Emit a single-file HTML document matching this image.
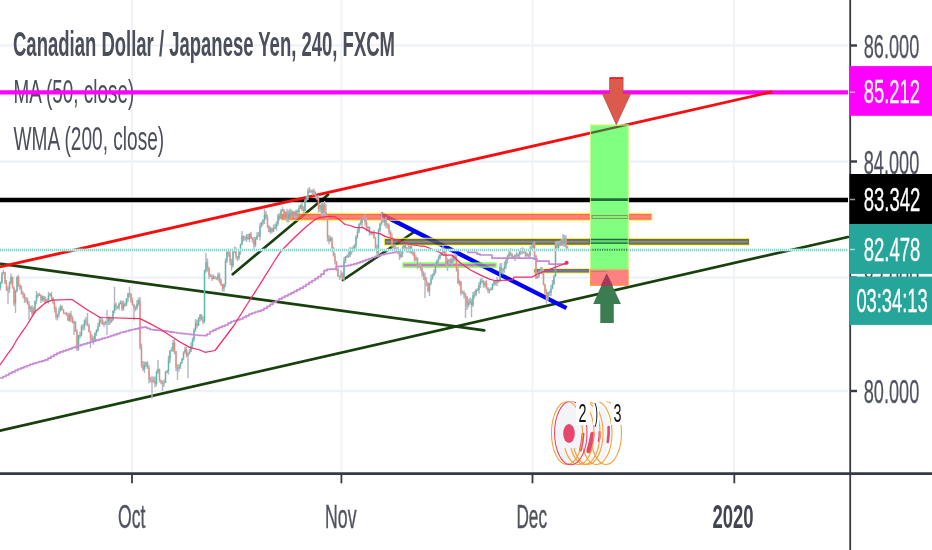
<!DOCTYPE html>
<html><head><meta charset="utf-8"><title>CADJPY chart</title><style>html,body{margin:0;padding:0;background:#fff;overflow:hidden;}svg{display:block;will-change:transform}</style></head><body>
<svg width="932" height="550" viewBox="0 0 932 550">
<style>text{font-family:"Liberation Sans", Arial, sans-serif;}</style>
<rect width="932" height="550" fill="#ffffff"/>
<g stroke="#eef2f7" stroke-width="2.4" fill="none">
<path d="M0 45.4H848"/>
<path d="M0 161.5H848"/>
<path d="M0 277.6H848"/>
<path d="M0 391.0H848"/>
</g>
<g stroke="#eff3f9" stroke-width="1.8" fill="none">
<path d="M132 0V472"/>
<path d="M341.4 0V472"/>
<path d="M532.5 0V472"/>
<path d="M734 0V472"/>
</g>
<text x="13" y="56.4" font-size="34.5" font-weight="bold" fill="#4b4e5b" textLength="382" lengthAdjust="spacingAndGlyphs" text-anchor="start">Canadian Dollar / Japanese Yen, 240, FXCM</text>
<text x="13.5" y="103.4" font-size="34" font-weight="normal" fill="#4b4e5b" textLength="120.7" lengthAdjust="spacingAndGlyphs" text-anchor="start">MA (50, close)</text>
<text x="13.5" y="150.2" font-size="34" font-weight="normal" fill="#4b4e5b" textLength="150.7" lengthAdjust="spacingAndGlyphs" text-anchor="start">WMA (200, close)</text>
<g stroke="#17400d" stroke-width="2.7" stroke-linecap="round">
<line x1="1" y1="263.8" x2="484.2" y2="330.4"/>
<line x1="0" y1="430.6" x2="848" y2="237"/>
<line x1="232.7" y1="274.2" x2="328" y2="194.7"/>
<line x1="343" y1="280" x2="414" y2="232"/>
</g>
<line x1="380.7" y1="214" x2="566.5" y2="308.2" stroke="#0000ff" stroke-width="4.3"/>
<path d="M0 200H848" stroke="#000" stroke-width="4.6"/>
<path d="M0 92.3H848" stroke="#ff00ff" stroke-width="4.3"/>
<line x1="1" y1="266.7" x2="771.2" y2="92" stroke="#f70d0d" stroke-width="2.9" stroke-linecap="round"/>
<g opacity="0.8"><rect x="281" y="212.7" width="371.20000000000005" height="8.200000000000017" fill="#fff23a"/><rect x="281.8" y="213.89999999999998" width="369.6" height="5.800000000000017" fill="#ff4a1a"/><rect x="282.8" y="215.2" width="367.80000000000007" height="3.200000000000017" fill="#ff6060"/></g>
<g opacity="0.8"><rect x="384" y="237.7" width="365.79999999999995" height="8.200000000000017" fill="#ffff40"/><rect x="384.8" y="238.89999999999998" width="364.19999999999993" height="5.800000000000017" fill="#4a4a10"/><rect x="385.8" y="240.79999999999998" width="362.4" height="2.000000000000017" fill="#6a6a88"/></g>
<g opacity="0.85"><rect x="402.3" y="262.3" width="94.4" height="5.6" fill="#70ff40"/><rect x="403.5" y="264.1" width="92.2" height="2.2" rx="1.1" fill="#c060c8"/></g>
<g opacity="0.8"><rect x="533.5" y="267.8" width="56.5" height="6.0" fill="#ffff40"/><rect x="534.3" y="269.0" width="54.9" height="3.6" fill="#4a4a70"/><rect x="535.3" y="270.3" width="53.1" height="1.0" fill="#5a5a90"/></g>
<path d="M0.50 281.5V290.4M2.00 271.8V284.0M3.50 270.0V274.5M5.00 272.0V284.0M6.50 280.0V291.1M8.00 286.5V304.0M9.50 281.1V293.1M11.00 273.5V284.2M12.50 276.2V288.8M14.00 286.4V306.1M15.50 289.5V313.0M17.00 276.2V292.2M18.50 274.8V287.1M20.00 283.7V289.8M21.50 285.5V294.8M23.00 291.3V298.2M24.50 293.3V302.9M26.00 297.1V302.6M27.50 297.4V304.7M29.00 301.1V320.0M30.50 306.1V312.1M32.00 305.1V315.5M33.50 306.8V315.6M35.00 300.4V313.5M36.50 291.0V304.3M38.00 293.0V298.1M39.50 292.7V296.0M41.00 294.5V303.0M42.50 295.4V301.6M44.00 296.0V302.3M45.50 296.8V304.0M47.00 298.5V302.5M48.50 291.7V303.7M50.00 293.1V296.4M51.50 292.0V300.1M53.00 297.3V304.2M54.50 300.0V312.6M56.00 306.6V319.4M57.50 313.7V320.5M59.00 307.5V317.4M60.50 304.4V311.7M62.00 305.7V310.3M63.50 308.9V314.3M65.00 312.5V314.2M66.50 311.7V315.7M68.00 312.8V321.1M69.50 312.7V321.9M71.00 310.9V321.8M72.50 315.7V323.4M74.00 320.4V335.0M75.50 321.0V331.9M77.00 329.3V351.0M78.50 334.7V351.1M80.00 331.7V338.5M81.50 324.7V336.5M83.00 324.1V330.2M84.50 319.3V330.3M86.00 316.9V325.0M87.50 313.0V326.5M89.00 323.7V332.5M90.50 330.8V348.0M92.00 334.2V342.8M93.50 336.2V344.7M95.00 332.2V341.3M96.50 328.9V335.9M98.00 322.8V332.0M99.50 316.9V326.8M101.00 316.5V323.5M102.50 318.2V324.9M104.00 321.6V327.2M105.50 320.5V324.9M107.00 310.0V335.0M108.50 316.6V325.1M110.00 316.6V324.8M111.50 317.7V323.0M113.00 310.2V320.8M114.50 286.8V313.3M116.00 302.5V310.3M117.50 305.7V308.9M119.00 302.6V310.2M120.50 300.3V304.5M122.00 300.6V310.9M123.50 300.8V310.7M125.00 302.2V306.7M126.50 298.2V306.3M128.00 292.9V301.9M129.50 286.8V297.3M131.00 292.9V302.9M132.50 297.5V305.7M134.00 303.8V320.5M135.50 305.7V311.3M137.00 300.0V309.8M138.50 298.1V305.9M140.00 297.0V349.6M141.50 343.5V367.8M143.00 361.1V370.9M144.50 361.4V373.0M146.00 361.8V367.1M147.50 361.3V369.1M149.00 365.3V383.3M150.50 376.7V382.5M152.00 376.2V398.8M153.50 376.5V382.9M155.00 376.4V387.5M156.50 370.3V386.3M158.00 360.0V373.7M159.50 368.6V382.5M161.00 379.7V384.3M162.50 380.6V391.0M164.00 379.5V387.0M165.50 371.1V383.1M167.00 369.7V373.2M168.50 355.6V374.4M170.00 350.0V362.9M171.50 347.3V351.4M173.00 339.9V352.0M174.50 339.0V354.2M176.00 350.9V371.3M177.50 364.3V380.0M179.00 364.3V371.5M180.50 362.1V368.9M182.00 358.1V363.7M183.50 351.3V360.2M185.00 346.4V353.8M186.50 347.0V357.3M188.00 352.3V378.0M189.50 349.1V354.5M191.00 342.3V352.1M192.50 337.6V348.2M194.00 328.3V341.7M195.50 319.1V331.7M197.00 320.1V328.5M198.50 317.1V326.3M200.00 314.3V321.7M201.50 313.9V320.5M203.00 316.3V324.3M204.50 269.6V322.9M206.00 253.0V272.7M207.50 258.4V271.8M209.00 266.7V279.2M210.50 273.7V276.9M212.00 274.5V281.1M213.50 274.5V279.2M215.00 276.0V279.2M216.50 277.1V279.9M218.00 272.7V280.8M219.50 272.4V283.3M221.00 278.6V286.1M222.50 283.8V291.4M224.00 283.6V291.8M225.50 258.2V287.1M227.00 251.2V263.1M228.50 248.6V256.7M230.00 250.9V265.1M231.50 258.7V270.5M233.00 250.1V267.4M234.50 246.5V253.2M236.00 247.3V259.2M237.50 256.1V261.1M239.00 249.6V260.1M240.50 243.5V254.8M242.00 231.0V245.4M243.50 235.2V241.5M245.00 236.3V240.5M246.50 233.9V241.9M248.00 234.1V239.8M249.50 232.9V242.2M251.00 231.7V238.9M252.50 237.3V242.7M254.00 237.1V250.8M255.50 237.0V247.0M257.00 232.2V240.1M258.50 232.1V237.1M260.00 223.0V240.6M261.50 221.5V227.4M263.00 219.1V225.2M264.50 208.3V224.0M266.00 211.0V219.6M267.50 214.5V228.2M269.00 224.9V232.3M270.50 226.4V233.9M272.00 227.7V233.1M273.50 224.8V231.9M275.00 223.5V229.0M276.50 221.0V230.5M278.00 213.7V225.7M279.50 212.9V220.4M281.00 209.1V219.2M282.50 206.7V211.8M284.00 208.9V219.6M285.50 211.3V220.0M287.00 208.7V222.2M288.50 210.1V222.6M290.00 208.6V214.2M291.50 209.6V218.7M293.00 210.6V216.1M294.50 211.2V217.7M296.00 209.5V218.6M297.50 209.7V214.6M299.00 205.6V213.7M300.50 204.2V209.1M302.00 203.0V211.0M303.50 205.9V212.9M305.00 199.3V211.6M306.50 195.7V201.5M308.00 188.2V199.9M309.50 187.0V193.0M311.00 189.5V193.1M312.50 189.4V195.5M314.00 188.5V195.0M315.50 191.3V198.6M317.00 195.5V200.3M318.50 194.9V212.5M320.00 204.4V211.9M321.50 202.7V215.5M323.00 202.7V216.8M324.50 200.9V215.6M326.00 204.0V219.3M327.50 215.6V241.6M329.00 235.1V244.3M330.50 235.8V241.6M332.00 237.0V252.0M333.50 246.8V256.5M335.00 253.1V264.5M336.50 261.1V271.3M338.00 267.4V277.0M339.50 275.4V280.0M341.00 270.4V278.4M342.50 272.2V279.4M344.00 257.3V281.2M345.50 255.9V263.3M347.00 254.4V258.0M348.50 251.5V257.9M350.00 247.1V257.1M351.50 247.6V254.5M353.00 245.9V252.3M354.50 244.1V251.4M356.00 235.5V248.7M357.50 227.6V238.8M359.00 223.2V233.3M360.50 219.2V225.2M362.00 218.4V226.9M363.50 217.6V220.0M365.00 214.5V225.6M366.50 218.1V231.3M368.00 225.9V231.3M369.50 226.5V235.8M371.00 231.2V234.5M372.50 232.5V235.3M374.00 230.1V238.8M375.50 237.0V249.3M377.00 244.4V255.0M378.50 228.2V254.8M380.00 222.7V231.9M381.50 213.6V225.6M383.00 218.0V222.6M384.50 219.5V225.9M386.00 217.0V228.0M387.50 223.1V228.7M389.00 223.6V234.8M390.50 230.5V237.4M392.00 233.4V247.6M393.50 244.6V250.4M395.00 244.3V253.1M396.50 246.9V252.0M398.00 246.4V254.2M399.50 250.2V260.1M401.00 251.3V258.3M402.50 245.9V257.1M404.00 244.0V250.6M405.50 244.5V249.2M407.00 247.0V252.7M408.50 244.5V252.6M410.00 245.6V253.4M411.50 244.3V254.0M413.00 250.3V255.9M414.50 249.7V262.3M416.00 255.2V260.9M417.50 256.9V269.2M419.00 264.7V267.4M420.50 262.3V270.7M422.00 266.5V276.4M423.50 271.3V279.9M425.00 272.7V298.0M426.50 277.2V286.2M428.00 282.4V292.4M429.50 282.6V296.0M431.00 274.7V285.2M432.50 273.5V279.7M434.00 269.0V276.2M435.50 262.5V273.9M437.00 259.8V266.1M438.50 255.4V263.4M440.00 254.1V259.5M441.50 251.9V255.9M443.00 245.1V255.2M444.50 247.7V255.7M446.00 251.3V265.6M447.50 257.9V271.0M449.00 258.9V264.6M450.50 257.9V264.3M452.00 255.9V266.7M453.50 255.0V262.4M455.00 253.0V261.1M456.50 254.1V271.8M458.00 268.0V284.1M459.50 279.4V285.9M461.00 281.1V295.6M462.50 290.6V293.8M464.00 290.5V298.6M465.50 292.7V318.0M467.00 296.1V310.0M468.50 299.0V307.4M470.00 297.6V304.6M471.50 298.8V317.3M473.00 292.0V306.7M474.50 291.1V298.6M476.00 288.9V296.3M477.50 288.1V290.8M479.00 281.9V293.5M480.50 278.5V288.0M482.00 277.5V283.1M483.50 280.0V287.8M485.00 280.9V287.6M486.50 280.0V289.5M488.00 287.2V293.1M489.50 288.5V293.7M491.00 287.2V290.6M492.50 283.4V290.0M494.00 280.5V286.0M495.50 280.7V285.4M497.00 277.0V285.9M498.50 279.6V283.3M500.00 263.2V282.0M501.50 263.0V273.6M503.00 268.1V274.5M504.50 261.5V272.8M506.00 257.1V269.1M507.50 254.8V263.4M509.00 249.6V257.7M510.50 248.1V256.2M512.00 253.0V258.7M513.50 255.6V257.8M515.00 254.3V260.9M516.50 251.6V256.9M518.00 253.6V258.2M519.50 249.6V257.9M521.00 248.0V254.9M522.50 247.3V254.1M524.00 248.2V253.4M525.50 249.7V257.5M527.00 252.2V256.8M528.50 253.7V258.7M530.00 246.3V259.3M531.50 245.2V250.4M533.00 242.6V248.8M534.50 241.3V257.8M536.00 254.8V279.3M537.50 275.8V278.5M539.00 270.5V277.8M540.50 266.9V273.7M542.00 266.7V274.8M543.50 268.9V285.6M545.00 283.7V294.6M546.50 288.8V303.7M548.00 291.7V300.8M549.50 290.5V295.9M551.00 285.0V296.2M552.50 280.1V289.2M554.00 274.7V284.9M555.50 241.4V276.8M557.00 240.8V248.8M558.50 241.1V250.1M560.00 240.4V246.2M561.50 239.0V245.7M563.00 234.0V246.6M564.50 234.9V246.7M566.00 235.3V248.6M567.50 245.9V249.0" stroke="#b3b6c0" stroke-width="1.4" fill="none"/>
<path d="M0.50 282.3V287.7M2.00 274.1V282.3M3.50 272.6V274.1M8.00 289.1V290.3M9.50 282.9V289.1M11.00 277.0V282.9M15.50 291.1V303.6M17.00 276.7V291.1M30.50 307.6V309.2M33.50 310.6V313.6M35.00 300.9V310.6M36.50 295.3V300.9M38.00 294.7V295.7M42.50 296.6V299.9M47.00 299.8V300.8M48.50 295.2V299.8M50.00 294.1V295.2M57.50 314.2V316.9M59.00 311.0V314.2M60.50 306.2V311.0M69.50 314.3V320.2M74.00 321.9V322.9M78.50 335.1V348.9M81.50 326.3V335.6M84.50 320.4V327.0M93.50 340.1V341.1M95.00 333.3V340.1M96.50 329.9V333.3M98.00 326.2V329.9M99.50 320.2V326.2M104.00 323.1V324.1M105.50 322.2V323.2M107.00 321.5V322.5M108.50 317.4V321.5M111.50 320.5V321.5M113.00 311.0V320.5M114.50 304.4V311.0M119.00 303.7V307.7M120.50 302.2V303.7M123.50 304.5V308.9M125.00 304.3V305.3M126.50 298.6V304.3M128.00 293.2V298.6M135.50 307.9V308.9M137.00 303.7V307.9M138.50 300.3V303.7M144.50 365.2V369.6M146.00 362.5V365.2M153.50 380.4V381.4M156.50 372.2V384.1M158.00 369.0V372.2M164.00 382.7V383.7M165.50 372.4V382.7M167.00 371.0V372.4M168.50 359.2V371.0M170.00 350.8V359.2M171.50 350.1V351.1M173.00 342.7V350.1M177.50 367.8V368.8M179.00 366.6V367.8M180.50 362.8V366.6M182.00 358.8V362.8M183.50 352.4V358.8M185.00 349.5V352.4M188.00 353.5V355.7M189.50 351.4V353.5M191.00 346.1V351.4M192.50 339.5V346.1M194.00 330.1V339.5M195.50 323.0V330.1M198.50 318.7V325.8M200.00 314.8V318.7M204.50 270.8V321.5M206.00 262.3V270.8M213.50 276.6V278.9M218.00 275.2V278.5M224.00 284.1V288.4M225.50 260.8V284.1M227.00 252.0V260.8M233.00 250.8V265.8M234.50 249.9V250.9M239.00 251.8V257.9M240.50 244.1V251.8M242.00 236.3V244.1M246.50 236.8V238.7M249.50 234.1V239.2M255.50 239.0V245.0M257.00 235.8V239.0M260.00 226.4V236.7M261.50 222.8V226.4M263.00 220.2V222.8M264.50 214.3V220.2M270.50 228.5V231.9M273.50 228.2V231.6M275.00 226.9V228.2M276.50 223.9V226.9M278.00 215.4V223.9M281.00 210.4V218.7M282.50 210.1V211.1M285.50 212.3V218.3M288.50 213.7V218.8M290.00 211.6V213.7M293.00 212.0V215.7M296.00 210.9V215.6M299.00 208.0V211.9M300.50 205.1V208.0M305.00 200.3V211.0M306.50 196.3V200.3M308.00 190.6V196.3M312.50 190.7V191.7M320.00 204.8V208.9M323.00 204.4V213.1M330.50 238.2V241.2M339.50 275.7V276.7M341.00 274.3V275.7M344.00 261.2V278.3M345.50 256.3V261.2M348.50 255.2V256.8M350.00 248.7V255.2M353.00 248.1V251.3M354.50 245.6V248.1M356.00 236.6V245.6M357.50 231.4V236.6M359.00 224.3V231.4M360.50 223.0V224.3M362.00 219.5V223.0M363.50 218.1V219.5M368.00 226.9V227.9M371.00 232.8V233.8M378.50 230.2V253.1M380.00 223.8V230.2M381.50 221.2V223.8M384.50 220.0V222.2M395.00 248.1V249.2M401.00 253.9V256.7M402.50 247.5V253.9M404.00 245.0V247.5M407.00 248.5V249.5M410.00 246.3V251.3M416.00 258.6V259.6M419.00 265.9V266.9M429.50 283.6V291.0M431.00 278.5V283.6M432.50 275.5V278.5M434.00 272.8V275.5M435.50 265.1V272.8M437.00 260.6V265.1M438.50 257.9V260.6M440.00 254.5V257.9M441.50 252.8V254.5M443.00 248.3V252.8M447.50 260.7V264.9M449.00 260.3V261.3M452.00 259.4V262.7M453.50 256.0V259.4M459.50 281.7V283.2M462.50 292.8V293.8M468.50 302.9V305.3M470.00 301.3V302.9M473.00 295.2V305.6M474.50 294.6V295.6M476.00 290.0V294.6M477.50 289.9V290.9M479.00 284.9V289.9M480.50 280.9V284.9M485.00 282.7V285.2M489.50 289.6V290.6M491.00 289.2V290.2M492.50 284.1V289.2M494.00 281.1V284.1M497.00 280.1V282.7M500.00 267.0V281.2M503.00 269.1V270.6M504.50 265.4V269.1M506.00 260.3V265.4M507.50 256.4V260.3M509.00 253.2V256.4M513.50 257.1V258.1M515.00 255.2V257.1M518.00 254.3V256.0M519.50 251.3V254.3M527.00 254.2V255.8M530.00 249.0V255.4M531.50 248.0V249.0M533.00 243.2V248.0M537.50 276.1V278.2M539.00 271.2V276.1M540.50 269.3V271.2M548.00 292.1V298.1M551.00 288.8V293.2M552.50 283.7V288.8M554.00 276.5V283.7M555.50 244.5V276.5M558.50 243.7V247.9M561.50 240.4V245.2M564.50 238.4V243.6" stroke="#58baa8" stroke-width="1.3" fill="none"/>
<path d="M5.00 272.6V283.4M6.50 283.4V290.3M12.50 277.0V287.4M14.00 287.4V303.6M18.50 276.7V285.7M20.00 285.7V288.4M21.50 288.4V293.5M23.00 293.5V294.7M24.50 294.7V299.0M26.00 299.0V300.0M27.50 299.5V304.2M29.00 304.2V309.2M32.00 307.6V313.6M39.50 294.7V295.7M41.00 295.1V299.9M44.00 296.6V300.3M45.50 300.3V301.3M51.50 294.1V297.6M53.00 297.6V302.4M54.50 302.4V308.8M56.00 308.8V316.9M62.00 306.2V309.8M63.50 309.8V312.8M65.00 312.8V313.8M66.50 313.3V315.3M68.00 315.3V320.2M71.00 314.3V317.8M72.50 317.8V322.8M75.50 321.9V331.6M77.00 331.6V348.9M80.00 335.1V336.1M83.00 326.3V327.3M86.00 320.4V321.7M87.50 321.7V325.3M89.00 325.3V332.1M90.50 332.1V338.1M92.00 338.1V340.8M101.00 320.2V321.2M102.50 320.3V323.9M110.00 317.4V321.4M116.00 304.4V306.8M117.50 306.8V307.8M122.00 302.2V308.9M129.50 293.2V294.4M131.00 294.4V300.7M132.50 300.7V305.0M134.00 305.0V308.9M140.00 300.3V347.3M141.50 347.3V364.9M143.00 364.9V369.6M147.50 362.5V368.5M149.00 368.5V379.7M150.50 379.7V380.7M152.00 379.8V381.1M155.00 380.4V384.1M159.50 369.0V380.1M161.00 380.1V382.8M162.50 382.8V383.8M174.50 342.7V351.5M176.00 351.5V367.8M186.50 349.5V355.7M197.00 323.0V325.8M201.50 314.8V319.8M203.00 319.8V321.5M207.50 262.3V267.9M209.00 267.9V275.4M210.50 275.4V276.6M212.00 276.6V278.9M215.00 276.6V277.6M216.50 277.5V278.5M219.50 275.2V280.4M221.00 280.4V284.6M222.50 284.6V288.4M228.50 252.0V253.4M230.00 253.4V261.5M231.50 261.5V265.8M236.00 249.9V256.4M237.50 256.4V257.9M243.50 236.3V238.4M245.00 238.4V239.4M248.00 236.8V239.2M251.00 234.1V238.6M252.50 238.6V239.9M254.00 239.9V245.0M258.50 235.8V236.8M266.00 214.3V217.4M267.50 217.4V227.0M269.00 227.0V231.9M272.00 228.5V231.6M279.50 215.4V218.7M284.00 210.1V218.3M287.00 212.3V218.8M291.50 211.6V215.7M294.50 212.0V215.6M297.50 210.9V211.9M302.00 205.1V209.8M303.50 209.8V211.0M309.50 190.6V191.6M311.00 191.1V192.1M314.00 190.7V192.4M315.50 192.4V197.3M317.00 197.3V198.4M318.50 198.4V208.9M321.50 204.8V213.1M324.50 204.4V211.7M326.00 211.7V218.4M327.50 218.4V237.8M329.00 237.8V241.2M332.00 238.2V248.3M333.50 248.3V255.8M335.00 255.8V261.6M336.50 261.6V269.1M338.00 269.1V275.9M342.50 274.3V278.3M347.00 256.3V257.3M351.50 248.7V251.3M365.00 218.1V222.1M366.50 222.1V227.5M369.50 226.9V233.0M372.50 232.8V233.9M374.00 233.9V238.1M375.50 238.1V247.7M377.00 247.7V253.1M383.00 221.2V222.2M386.00 220.0V224.4M387.50 224.4V225.4M389.00 224.9V231.8M390.50 231.8V237.0M392.00 237.0V245.0M393.50 245.0V249.2M396.50 248.1V250.1M398.00 250.1V253.2M399.50 253.2V256.7M405.50 245.0V248.8M408.50 248.5V251.3M411.50 246.3V252.9M413.00 252.9V253.9M414.50 253.1V259.5M417.50 258.6V266.2M420.50 265.9V268.3M422.00 268.3V272.4M423.50 272.4V276.6M425.00 276.6V280.5M426.50 280.5V282.8M428.00 282.8V291.0M444.50 248.3V254.0M446.00 254.0V264.9M450.50 260.3V262.7M455.00 256.0V257.5M456.50 257.5V270.0M458.00 270.0V283.2M461.00 281.7V293.0M464.00 292.8V294.8M465.50 294.8V297.1M467.00 297.1V305.3M471.50 301.3V305.6M482.00 280.9V282.3M483.50 282.3V285.2M486.50 282.7V287.6M488.00 287.6V290.5M495.50 281.1V282.7M498.50 280.1V281.2M501.50 267.0V270.6M510.50 253.2V254.2M512.00 254.1V257.4M516.50 255.2V256.2M521.00 251.3V252.3M522.50 251.3V252.3M524.00 251.4V252.4M525.50 252.1V255.8M528.50 254.2V255.4M534.50 243.2V255.6M536.00 255.6V278.2M542.00 269.3V272.7M543.50 272.7V284.4M545.00 284.4V292.0M546.50 292.0V298.1M549.50 292.1V293.2M557.00 244.5V247.9M560.00 243.7V245.2M563.00 240.4V243.6M566.00 238.4V246.6M567.50 246.6V247.8" stroke="#f0887a" stroke-width="1.3" fill="none"/>
<path d="M0.0 378.0H3.0V376.5H6.0V375.0H9.0V373.4H12.0V371.9H15.0V370.4H18.0V369.0H21.0V367.8H24.0V366.7H27.0V365.5H30.0V364.3H33.0V363.4H36.0V362.5H39.0V361.7H42.0V360.8H45.0V359.9H48.0V358.2H51.0V356.4H54.0V354.7H57.0V353.2H60.0V351.9H63.0V350.8H66.0V349.8H69.0V348.8H72.0V347.7H75.0V346.7H78.0V345.7H81.0V344.7H84.0V343.8H87.0V342.9H90.0V342.0H93.0V341.1H96.0V340.2H99.0V339.3H102.0V338.4H105.0V337.5H108.0V336.6H111.0V335.6H114.0V334.6H117.0V333.6H120.0V332.5H123.0V331.8H126.0V331.0H129.0V330.2H132.0V329.5H135.0V328.9H138.0V328.2H141.0V327.4H144.0V327.2H147.0V328.3H150.0V329.5H153.0V329.8H156.0V330.1H159.0V330.4H162.0V330.8H165.0V331.2H168.0V331.7H171.0V332.1H174.0V332.5H177.0V333.0H180.0V333.4H183.0V333.7H186.0V334.0H189.0V334.3H192.0V334.7H195.0V335.0H198.0V335.3H201.0V335.5H204.0V335.6H207.0V334.0H210.0V331.5H213.0V330.1H216.0V328.7H219.0V327.4H222.0V326.1H225.0V325.0H228.0V323.1H231.0V321.5H234.0V320.7H237.0V319.8H240.0V319.0H243.0V317.4H246.0V315.8H249.0V314.1H252.0V313.0H255.0V312.0H258.0V311.1H261.0V310.1H264.0V308.4H267.0V306.4H270.0V304.4H273.0V302.4H276.0V300.5H279.0V298.9H282.0V297.4H285.0V295.9H288.0V294.3H291.0V292.8H294.0V291.3H297.0V289.7H300.0V288.2H303.0V286.3H306.0V284.4H309.0V282.4H312.0V280.5H315.0V278.6H318.0V276.7H321.0V274.2H324.0V270.7H327.0V269.4H330.0V269.2H333.0V269.1H336.0V266.5H339.0V266.3H342.0V266.2H345.0V266.0H348.0V265.3H351.0V264.6H354.0V263.8H357.0V262.9H360.0V261.8H363.0V260.7H366.0V259.6H369.0V258.6H372.0V257.5H375.0V256.4H378.0V255.6H381.0V254.7H384.0V253.9H387.0V253.3H390.0V253.0H393.0V252.4H396.0V251.6H399.0V250.8H402.0V250.5H405.0V250.4H408.0V250.3H411.0V250.2H414.0V250.2H417.0V250.1H420.0V250.0H423.0V250.0H426.0V249.9H429.0V249.8H432.0V249.8H435.0V249.8H438.0V249.8H441.0V249.8H444.0V249.8H447.0V249.8H450.0V249.8H453.0V249.8H456.0V249.8H459.0V249.8H462.0V249.8H465.0V249.8H468.0V252.4H471.0V252.4H474.0V252.4H477.0V254.1H480.0V255.0H483.0V255.0H486.0V255.0H489.0V255.0H492.0V258.2H495.0V258.2H498.0V258.2H501.0V258.2H504.0V258.2H507.0V258.2H510.0V258.2H513.0V258.2H516.0V258.2H519.0V258.2H522.0V258.2H525.0V258.2H528.0V258.2H531.0V258.2H534.0V259.2H537.0V261.2H540.0V261.2H543.0V261.2H546.0V261.2H549.0V264.2H552.0V264.2H555.0V264.2H558.0V264.2H561.0V264.2H564.0V264.2H567.0V264.2" fill="none" stroke="#c788d6" stroke-width="1.7" stroke-linejoin="round"/>
<polyline points="0.0,365.0 7.0,354.8 12.0,348.2 17.0,339.5 22.0,332.2 27.0,325.0 31.0,318.4 35.0,311.8 40.0,307.5 45.0,303.1 48.0,301.6 52.0,300.2 72.0,299.5 86.0,309.0 100.0,317.5 140.0,318.6 150.0,323.6 160.0,329.0 170.0,335.6 180.0,342.0 190.0,347.6 200.0,350.0 205.0,352.3 215.0,350.5 220.0,344.0 233.6,326.0 247.0,304.5 261.0,282.7 274.5,261.0 280.0,252.5 285.0,247.0 295.0,237.0 305.0,227.8 315.0,219.6 320.0,217.4 330.0,216.3 335.0,216.8 340.0,220.1 345.0,224.5 350.0,225.5 355.0,227.3 363.0,227.6 370.0,231.8 380.0,233.6 385.0,236.4 400.0,241.0 410.0,244.5 420.0,246.0 424.0,246.0 440.0,252.4 443.0,255.0 452.0,255.0 460.0,262.7 470.0,269.8 480.0,274.9 490.0,279.4 495.0,280.5 512.5,280.0 514.0,277.0 532.0,277.0 535.0,275.4 538.0,273.8 545.0,271.0 553.0,268.2 560.0,265.5 566.6,262.8" fill="none" stroke="#fb2a66" stroke-width="1.25" stroke-linejoin="round"/>
<circle cx="566.6" cy="262.8" r="2" fill="#fb2a66"/>
<path d="M0 250H848" stroke="#daf1ee" stroke-width="2.4"/>
<path d="M0 250H848" stroke="#8fd3cb" stroke-width="2.4" stroke-dasharray="1 1"/>
<rect x="590" y="124.7" width="38.7" height="144.6" fill="#80ff80"/>
<path d="M590 133.1L628.7 124.4" stroke="#5a6636" stroke-width="2.2"/>
<path d="M590 199.6H628.7" stroke="#1f6b3a" stroke-width="2.6"/>
<rect x="592" y="215.6" width="36" height="2.8" fill="none" stroke="#8b8a55" stroke-width="1"/>
<rect x="590" y="239.4" width="38.7" height="3.8" fill="#5fcf6f" stroke="#1f6b3a" stroke-width="1.3"/>
<path d="M590 249.7H628.7" stroke="#2f7a5a" stroke-width="2" stroke-dasharray="1.2 1.2"/>
<path d="M590 125H628.7" stroke="#f5f07a" stroke-width="1.2"/>
<path d="M590.4 125V269M628.3 125V269" stroke="#e8f59a" stroke-width="0.8"/>
<rect x="590.5" y="269.8" width="37.7" height="15.6" fill="#ff8080" stroke="#f7a040" stroke-width="1"/>
<path d="M591 271.6H607" stroke="#a08a6a" stroke-width="1"/>
<path d="M609.6 78H623.1V93.5H630.8L616.3 124.7L602.3 93.5H609.6Z" fill="#dc5a4b" stroke="#b8474e" stroke-width="0.7" stroke-linejoin="round"/>
<path d="M609.6 78H623.1" stroke="#f01010" stroke-width="1.5"/>
<path d="M606.7 273.4L620.9 304H613.8V323H600.3V304H593.2Z" fill="#3b7d50"/>
<path d="M606.7 273.4L612.9 285.7H600.7Z" fill="#a33a5c"/>
<clipPath id="ev"><rect x="540" y="401.5" width="100" height="70"/></clipPath>
<g clip-path="url(#ev)">
<ellipse cx="571" cy="433" rx="15" ry="31" fill="#f3f4f8"/>
<ellipse cx="596" cy="433" rx="14" ry="29" fill="#f5f6f9"/>
<path d="M583 434Q582.55 442.0 580.5 450" stroke="#e6476c" stroke-width="3" fill="none" stroke-linecap="round"/>
<path d="M592.5 434Q591.3 442.5 588.5 451" stroke="#e6476c" stroke-width="4.5" fill="none" stroke-linecap="round"/>
<path d="M599.6 432Q600.0 436.5 598.8 441" stroke="#e6476c" stroke-width="2.2" fill="none" stroke-linecap="round"/>
<path d="M608.6 427Q609.0 434.5 607.8 442" stroke="#e6476c" stroke-width="2.6" fill="none" stroke-linecap="round"/>
<path d="M578.5 401.5A15.5 31.5 0 0 1 578.5 464.5A15.5 31.5 0 0 1 564.9 448" fill="none" stroke="#f7a13a" stroke-width="1.1"/>
<path d="M584.5 401.5A15.5 31.5 0 0 1 584.5 464.5A15.5 31.5 0 0 1 570.9 448" fill="none" stroke="#f7a13a" stroke-width="1.1"/>
<path d="M587.5 401.5A15.5 31.5 0 0 1 587.5 464.5A15.5 31.5 0 0 1 573.9 448" fill="none" stroke="#f7a13a" stroke-width="1.1"/>
<path d="M596.5 401.5A15.5 31.5 0 0 1 596.5 464.5A15.5 31.5 0 0 1 582.9 448" fill="none" stroke="#f7a13a" stroke-width="1.1"/>
<path d="M606 401.5A15.5 31.5 0 0 1 606 464.5A15.5 31.5 0 0 1 592.4 448" fill="none" stroke="#f7a13a" stroke-width="1.1"/>
<ellipse cx="567" cy="433" rx="15.5" ry="31.5" fill="none" stroke="#f7a13a" stroke-width="1.1"/>
<ellipse cx="570.8" cy="433" rx="16.2" ry="31.8" fill="none" stroke="#ef3f6a" stroke-width="1.1"/>
<ellipse cx="569" cy="433.5" rx="5.8" ry="9.5" fill="#e6476c"/>
</g>
<rect x="576" y="401" width="14" height="24" fill="#fff"/>
<rect x="593" y="401" width="6" height="24" fill="#fff"/>
<rect x="611" y="401" width="13" height="24" fill="#fff"/>
<text x="578.5" y="422" font-size="26" font-weight="normal" fill="#111" textLength="8" lengthAdjust="spacingAndGlyphs" text-anchor="start">2</text>
<text x="594.5" y="422" font-size="26" font-weight="normal" fill="#111" textLength="3.5" lengthAdjust="spacingAndGlyphs" text-anchor="start">)</text>
<text x="613.5" y="422" font-size="26" font-weight="normal" fill="#111" textLength="8" lengthAdjust="spacingAndGlyphs" text-anchor="start">3</text>
<path d="M0 473.7H932" stroke="#363a45" stroke-width="2.7"/>
<path d="M850.2 0V550" stroke="#363a45" stroke-width="1.8"/>
<path d="M132 473V483.3" stroke="#363a45" stroke-width="1.8"/>
<path d="M341.4 473V483.3" stroke="#363a45" stroke-width="1.8"/>
<path d="M532.5 473V483.3" stroke="#363a45" stroke-width="1.8"/>
<path d="M734.3 473V483.3" stroke="#363a45" stroke-width="1.8"/>
<path d="M850 45.5H857" stroke="#363a45" stroke-width="2.4"/>
<path d="M850 161.5H857" stroke="#363a45" stroke-width="2.4"/>
<path d="M850 277.6H857" stroke="#363a45" stroke-width="2.4"/>
<path d="M850 391.0H857" stroke="#363a45" stroke-width="2.4"/>
<text x="863.7" y="58.1" font-size="34" font-weight="normal" fill="#4f535f" stroke="#4f535f" stroke-width="0.3" textLength="55.6" lengthAdjust="spacingAndGlyphs" text-anchor="start">86.000</text>
<text x="863.7" y="174.1" font-size="34" font-weight="normal" fill="#4f535f" stroke="#4f535f" stroke-width="0.3" textLength="55.6" lengthAdjust="spacingAndGlyphs" text-anchor="start">84.000</text>
<text x="863.7" y="290.1" font-size="34" font-weight="normal" fill="#4f535f" stroke="#4f535f" stroke-width="0.3" textLength="55.6" lengthAdjust="spacingAndGlyphs" text-anchor="start">82.000</text>
<text x="863.7" y="403.1" font-size="34" font-weight="normal" fill="#4f535f" stroke="#4f535f" stroke-width="0.3" textLength="55.6" lengthAdjust="spacingAndGlyphs" text-anchor="start">80.000</text>
<rect x="849.5" y="66.1" width="83" height="49.7" fill="#ff00ff"/>
<text x="863.7" y="102.6" font-size="34" font-weight="normal" fill="#fff" stroke="#fff" stroke-width="0.35" textLength="56.3" lengthAdjust="spacingAndGlyphs" text-anchor="start">85.212</text>
<rect x="849.5" y="174" width="83" height="50" fill="#000"/>
<text x="863.7" y="210.7" font-size="34" font-weight="normal" fill="#fff" stroke="#fff" stroke-width="0.35" textLength="56.7" lengthAdjust="spacingAndGlyphs" text-anchor="start">83.342</text>
<rect x="849.5" y="224" width="83" height="49.9" fill="#26a69a"/>
<text x="863.7" y="260.7" font-size="34" font-weight="normal" fill="#fff" stroke="#fff" stroke-width="0.35" textLength="56.7" lengthAdjust="spacingAndGlyphs" text-anchor="start">82.478</text>
<rect x="849.5" y="276.6" width="83" height="48.3" fill="#26a69a"/>
<text x="856.4" y="311.6" font-size="34" font-weight="normal" fill="#fff" stroke="#fff" stroke-width="0.35" textLength="71.3" lengthAdjust="spacingAndGlyphs" text-anchor="start">03:34:13</text>
<path d="M850 92.3H855" stroke="#ff9cff" stroke-width="1.5"/>
<path d="M850 199.5H855" stroke="#9a9a9a" stroke-width="1.5"/>
<path d="M850 249.5H855" stroke="#a8dcd6" stroke-width="1.5"/>
<text x="118" y="527.5" font-size="33.5" font-weight="normal" fill="#4f535f" stroke="#4f535f" stroke-width="0.4" textLength="27.4" lengthAdjust="spacingAndGlyphs" text-anchor="start">Oct</text>
<text x="325" y="527.5" font-size="33.5" font-weight="normal" fill="#4f535f" stroke="#4f535f" stroke-width="0.4" textLength="31.5" lengthAdjust="spacingAndGlyphs" text-anchor="start">Nov</text>
<text x="516.4" y="527.5" font-size="33.5" font-weight="normal" fill="#4f535f" stroke="#4f535f" stroke-width="0.4" textLength="30.6" lengthAdjust="spacingAndGlyphs" text-anchor="start">Dec</text>
<text x="712.4" y="527.5" font-size="33.5" font-weight="bold" fill="#434651" textLength="41.2" lengthAdjust="spacingAndGlyphs" text-anchor="start">2020</text>
</svg>
</body></html>
